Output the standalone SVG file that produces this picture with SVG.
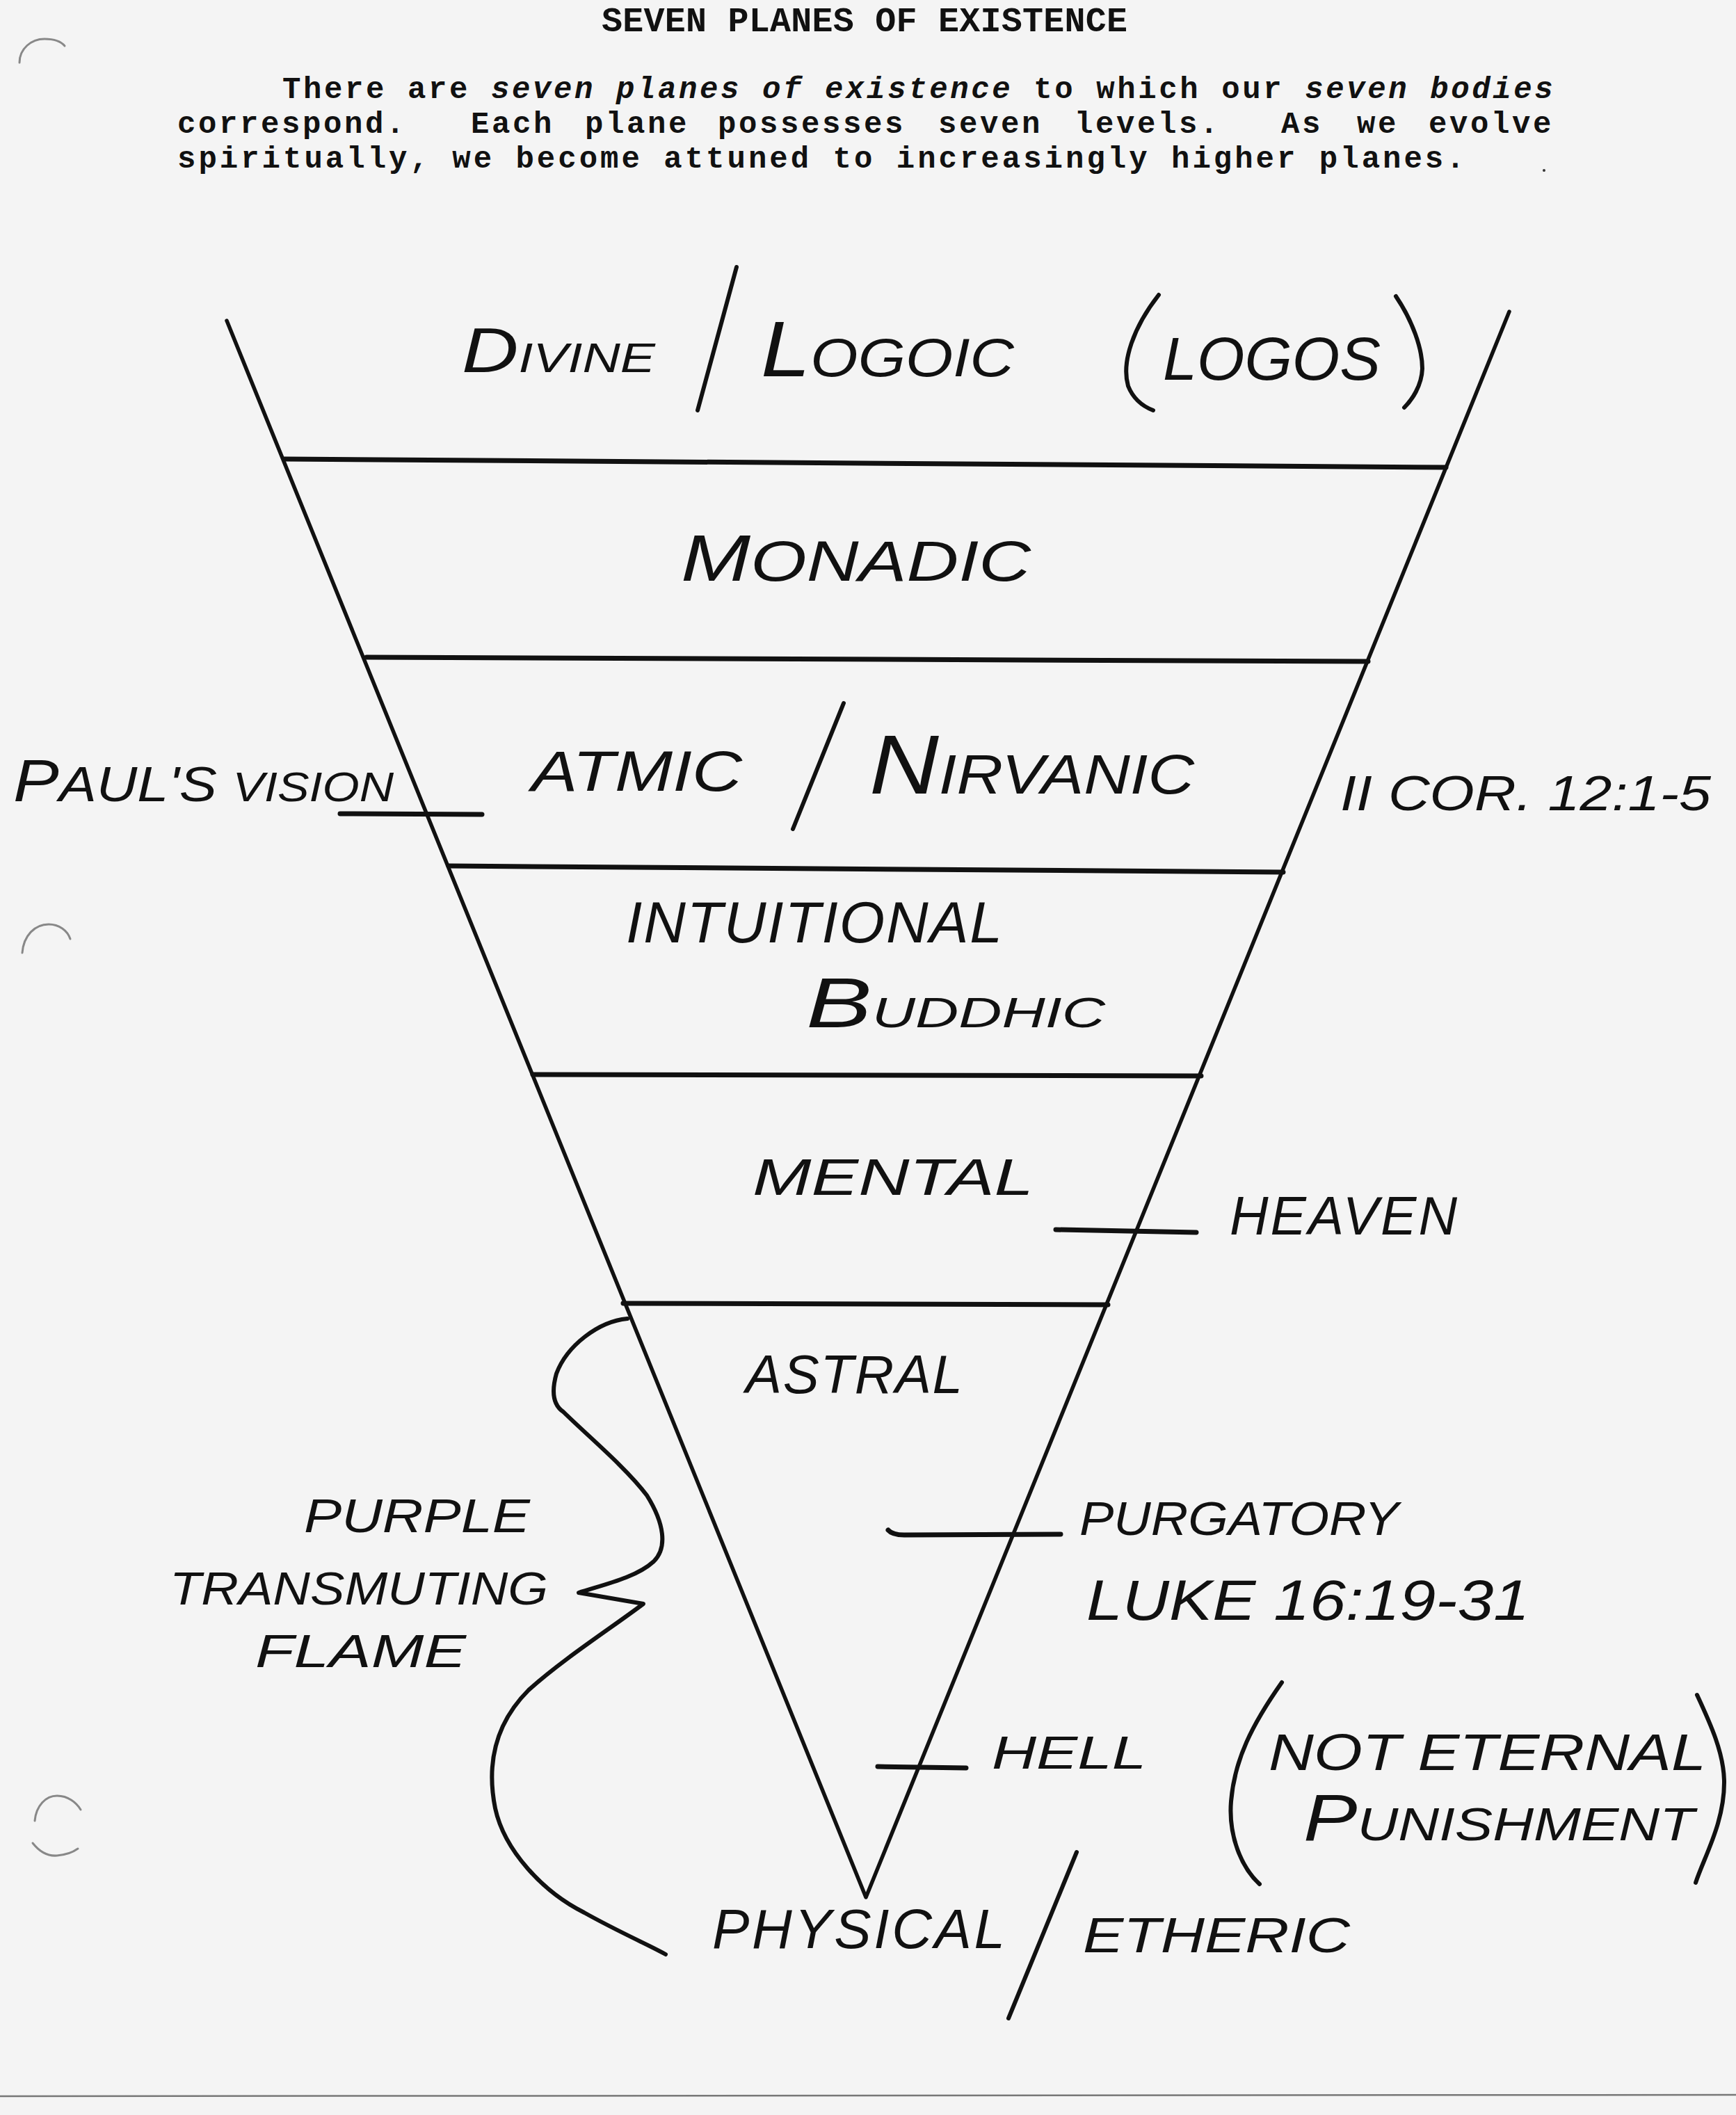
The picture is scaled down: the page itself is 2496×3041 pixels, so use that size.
<svg xmlns="http://www.w3.org/2000/svg" width="2496" height="3041" viewBox="0 0 2496 3041">
<style>
.tw{font-family:"Liberation Mono","Courier New",monospace;font-weight:bold;font-size:44px;fill:#111;letter-spacing:3.6px}
.tt{font-family:"Liberation Mono","Courier New",monospace;font-weight:bold;font-size:50px;fill:#111}
.hw{font-family:"Liberation Sans",Arial,sans-serif;font-style:italic;fill:#111}
.edge{stroke:#111;stroke-width:5.5;fill:none;stroke-linecap:round;stroke-linejoin:round}
.div{stroke:#111;stroke-width:7;fill:none;stroke-linecap:round}
.ink{stroke:#111;stroke-width:6;fill:none;stroke-linecap:round;stroke-linejoin:round}
.punch{stroke:#888;stroke-width:3;fill:none;stroke-linecap:round}
</style>
<rect x="0" y="0" width="2496" height="3041" fill="#f4f4f4"/>

<g id="page-marks">
<path class="punch" d="M28 90 C 28 70, 45 56, 64 56 C 78 56, 88 60, 93 66"/>
<path class="punch" d="M32 1370 C 34 1345, 50 1329, 70 1329 C 85 1329, 97 1338, 101 1350"/>
<path class="punch" d="M50 2618 C 52 2596, 66 2582, 82 2582 C 98 2582, 110 2592, 116 2602"/>
<path class="punch" d="M47 2650 C 58 2664, 70 2669, 82 2668 C 95 2667, 105 2663, 112 2658"/>
<line x1="0" y1="3014" x2="2496" y2="3012" stroke="#777" stroke-width="2.5"/>
<circle cx="2220" cy="245" r="2" fill="#333"/>
</g>

<g id="title">
<text class="tt" x="865" y="45" textLength="756" lengthAdjust="spacing">SEVEN PLANES OF EXISTENCE</text>
</g>

<g id="intro">
<text class="tw" x="406" y="141">There are <tspan font-style="italic">seven planes of existence</tspan> to which our <tspan font-style="italic">seven bodies</tspan></text>
<text class="tw" y="191"><tspan x="255">correspond.</tspan><tspan x="677">Each</tspan><tspan x="841">plane</tspan><tspan x="1032">possesses</tspan><tspan x="1349">seven</tspan><tspan x="1545">levels.</tspan><tspan x="1842">As</tspan><tspan x="1951">we</tspan><tspan x="2054">evolve</tspan></text>
<text class="tw" x="255" y="241" style="letter-spacing:4px">spiritually, we become attuned to increasingly higher planes.</text>
</g>

<g id="funnel">
<polyline class="edge" points="326,461 1245,2728 2170,448"/>
<line class="div" x1="409" y1="660" x2="2079" y2="672"/>
<line class="div" x1="527" y1="945" x2="1967" y2="951"/>
<line class="div" x1="645" y1="1245" x2="1845" y2="1254"/>
<line class="div" x1="766" y1="1545" x2="1727" y2="1547"/>
<line class="div" x1="896" y1="1874" x2="1593" y2="1876"/>
</g>

<g id="plane-divine">
<text class="hw" x="664" y="535" textLength="278" lengthAdjust="spacingAndGlyphs"><tspan font-size="90">D</tspan><tspan font-size="60">IVINE</tspan></text>
<line class="ink" x1="1059" y1="384" x2="1003" y2="590"/>
<text class="hw" x="1094" y="541" textLength="364" lengthAdjust="spacingAndGlyphs"><tspan font-size="114">L</tspan><tspan font-size="78">OGOIC</tspan></text>
<path class="ink" d="M1666 424 C 1630 470, 1612 520, 1622 555 C 1630 575, 1645 585, 1658 590"/>
<text class="hw" x="1672" y="546" font-size="88" textLength="313" lengthAdjust="spacing">LOGOS</text>
<path class="ink" d="M2007 426 C 2030 460, 2045 500, 2045 530 C 2044 555, 2030 575, 2019 586"/>
</g>

<g id="plane-monadic">
<text class="hw" x="979" y="835" textLength="503" lengthAdjust="spacingAndGlyphs"><tspan font-size="94">M</tspan><tspan font-size="81">ONADIC</tspan></text>
</g>

<g id="plane-atmic">
<text class="hw" x="764" y="1137" font-size="81" textLength="303" lengthAdjust="spacingAndGlyphs">ATMIC</text>
<line class="ink" x1="1213" y1="1011" x2="1140" y2="1192"/>
<text class="hw" x="1250" y="1141" textLength="467" lengthAdjust="spacingAndGlyphs"><tspan font-size="120">N</tspan><tspan font-size="80">IRVANIC</tspan></text>
</g>

<g id="label-pauls-vision">
<text class="hw" x="19" y="1152" textLength="547" lengthAdjust="spacingAndGlyphs"><tspan font-size="85">P</tspan><tspan font-size="70">AUL'S </tspan><tspan font-size="59">VISION</tspan></text>
</g>

<g id="label-cor">
<text class="hw" x="1927" y="1165" font-size="70" textLength="533" lengthAdjust="spacingAndGlyphs">II COR. 12:1-5</text>
</g>

<g id="plane-intuitional">
<text class="hw" x="900" y="1355" font-size="84" textLength="541" lengthAdjust="spacing">INTUITIONAL</text>
<text class="hw" x="1159" y="1477" textLength="430" lengthAdjust="spacingAndGlyphs"><tspan font-size="102">B</tspan><tspan font-size="62">UDDHIC</tspan></text>
</g>

<g id="plane-mental">
<text class="hw" x="1082" y="1718" font-size="74" textLength="404" lengthAdjust="spacingAndGlyphs">MENTAL</text>
</g>

<g id="label-heaven">
<text class="hw" x="1768" y="1775" font-size="77" textLength="327" lengthAdjust="spacing">HEAVEN</text>
</g>

<g id="plane-astral">
<text class="hw" x="1072" y="2003" font-size="78" textLength="312" lengthAdjust="spacing">ASTRAL</text>
</g>

<g id="label-purgatory">
<text class="hw" x="1552" y="2207" font-size="68" textLength="459" lengthAdjust="spacingAndGlyphs">PURGATORY</text>
<text class="hw" x="1562" y="2329" font-size="81" textLength="637" lengthAdjust="spacingAndGlyphs">LUKE 16:19-31</text>
</g>

<g id="label-hell">
<text class="hw" x="1426" y="2543" font-size="66" textLength="222" lengthAdjust="spacingAndGlyphs">HELL</text>
<path class="ink" d="M1843 2419 C 1800 2480, 1775 2530, 1770 2590 C 1766 2640, 1785 2685, 1811 2709"/>
<text class="hw" x="1824" y="2545" font-size="74" textLength="629" lengthAdjust="spacingAndGlyphs">NOT ETERNAL</text>
<text class="hw" x="1874" y="2646" textLength="562" lengthAdjust="spacingAndGlyphs"><tspan font-size="94">P</tspan><tspan font-size="66">UNISHMENT</tspan></text>
<path class="ink" d="M2440 2437 C 2460 2480, 2478 2520, 2479 2560 C 2480 2620, 2450 2670, 2438 2707"/>
</g>

<g id="label-flame">
<text class="hw" x="437" y="2203" font-size="68" textLength="325" lengthAdjust="spacingAndGlyphs">PURPLE</text>
<text class="hw" x="244" y="2307" font-size="67" textLength="544" lengthAdjust="spacingAndGlyphs">TRANSMUTING</text>
<text class="hw" x="367" y="2397" font-size="66" textLength="303" lengthAdjust="spacingAndGlyphs">FLAME</text>
</g>

<g id="plane-physical">
<text class="hw" x="1024" y="2801" font-size="80" textLength="421" lengthAdjust="spacing">PHYSICAL</text>
<line class="ink" x1="1548" y1="2663" x2="1450" y2="2902"/>
<text class="hw" x="1557" y="2807" font-size="71" textLength="384" lengthAdjust="spacingAndGlyphs">ETHERIC</text>
</g>

<g id="connectors">
<line class="div" x1="489" y1="1170" x2="693" y2="1171"/>
<line class="div" x1="1518" y1="1768" x2="1720" y2="1772"/>
<path class="div" d="M1277 2200 Q1283 2207 1300 2207 L1525 2206"/>
<line class="div" x1="1262" y1="2540" x2="1389" y2="2542"/>
<path class="ink" stroke-width="5" d="M902 1896 C 860 1900, 815 1935, 800 1975 C 793 2000, 795 2020, 810 2030 C 840 2060, 900 2110, 930 2150 C 955 2190, 960 2225, 940 2245 C 915 2268, 870 2278, 832 2290 L 925 2306 C 880 2340, 810 2385, 760 2430 C 710 2480, 700 2540, 712 2600 C 725 2660, 780 2720, 840 2750 C 890 2778, 930 2795, 957 2810"/>
</g>
</svg>
